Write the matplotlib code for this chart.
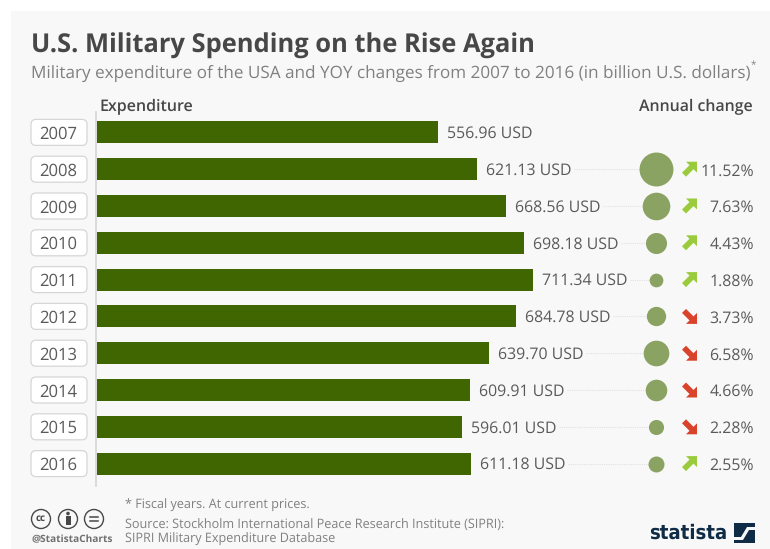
import numpy as np
import matplotlib
matplotlib.use("Agg")
import matplotlib.pyplot as plt
from matplotlib.patches import Circle, FancyBboxPatch, Polygon, Rectangle

plt.rcParams["font.family"] = ["Open Sans", "DejaVu Sans"]
plt.rcParams["text.hinting"] = "no_hinting"

# ─── DATA ────────────────────────────────────────────────────────────────────
years = ["2007", "2008", "2009", "2010", "2011", "2012", "2013", "2014", "2015", "2016"]
spending = [556.96, 621.13, 668.56, 698.18, 711.34, 684.78, 639.70, 609.91, 596.01, 611.18]
changes = [None, 11.52, 7.63, 4.43, 1.88, 3.73, 6.58, 4.66, 2.28, 2.55]
direction = [0, 1, 1, 1, 1, -1, -1, -1, -1, 1]

W, H = 770, 549
DPI = 100
PX = 72 / DPI  # one pixel in points

TEXT = "#5a5a5a"
DARK = "#474747"
GREY = "#808080"
BAR = "#3f6600"
DOT = "#8aa262"
UP = "#9acb3c"
DOWN = "#d9432b"
PANEL = "#f8f8f8"
NAVY = "#0f2b46"

fig = plt.figure(figsize=(W / DPI, H / DPI), dpi=DPI, facecolor="white")

# overlay in pixel coordinates for the frame, header and footer
bg = fig.add_axes([0, 0, 1, 1])
bg.set_xlim(0, W)
bg.set_ylim(H, 0)
bg.axis("off")
bg.add_patch(Rectangle((11, 11), W - 11, H - 11, facecolor=PANEL, edgecolor="none"))


def label(x, y, s, size, color=TEXT, ha="left", **kw):
    # va="center" sits about 2px high for this font
    bg.text(x, y + 2, s, fontsize=size, color=color, ha=ha, va="center", **kw)


# data axes: bars on a USD scale, one row per year
left, right, top, bottom = 97, W, 114, 482
ax = fig.add_axes([left / W, 1 - bottom / H, (right - left) / W, (bottom - top) / H])
ax.patch.set_alpha(0)
scale = 341 / 556.96  # pixels per billion USD
ax.set_xlim(0, (right - left) / scale)
ax.set_ylim(len(years) - 0.5, -0.5)
ax.axis("off")

rows = np.arange(len(years))
ax.barh(rows, spending, height=0.6, color=BAR, zorder=2)

dot_x = (656 - left) / scale
for i, (val, chg) in enumerate(zip(spending, changes)):
    ax.annotate(f"{val:.2f} USD", (val, i), xytext=(9 * PX, -1.5 * PX), textcoords="offset points",
                ha="left", va="center", fontsize=11.45, color=TEXT)
    if chg is None:
        continue
    # leader between the value label and the bubble
    ax.plot([val + 97 / scale, dot_x], [i, i], color="#e2e2e2", lw=0.8, ls=(0, (1, 1)), zorder=1)
    radius = 5 * np.sqrt(chg)
    ax.scatter(dot_x, i, s=(2 * radius * PX) ** 2, color=DOT, linewidths=0, zorder=3)

# header
label(31, 44, "U.S. Military Spending on the Rise Again", 18.37, DARK, fontweight="bold")
label(31, 71, "Military expenditure of the USA and YOY changes from 2007 to 2016 (in billion U.S. dollars)",
      12.3, GREY)
label(750.5, 64, "*", 7, GREY)
label(99.5, 105, "Expenditure", 11.5, DARK, fontweight="semibold")
label(753, 105, "Annual change", 11.4, DARK, ha="right", fontweight="semibold")

# axis rule and year boxes
bg.plot([96, 96], [112, 486], color="#d4d4d4", lw=1.2)
for i, yr in enumerate(years):
    cy = top + (i + 0.5) * (bottom - top) / len(years)
    bg.add_patch(FancyBboxPatch((31, cy - 13), 56, 26, boxstyle="round,pad=0,rounding_size=5",
                                facecolor="white", edgecolor="#d6d6d6", lw=0.9))
    label(58.5, cy, yr, 12, ha="center")

    if changes[i] is None:
        continue
    label(754, cy, f"{changes[i]:.2f}%", 11.45, ha="right")

    # thick diagonal arrow, flipped vertically for decreases
    cx, s = 689.5, direction[i]
    shape = [(-3.5, -7.5), (7.5, -7.5), (7.5, 3.5), (4, 0), (-3.5, 7.5), (-7.5, 3.5), (0, -4)]
    shape = [(cx + px, cy + s * py) for px, py in shape]
    bg.add_patch(Polygon(shape, closed=True, color=UP if s > 0 else DOWN, lw=0))

# footer
label(125, 503, "* Fiscal years. At current prices.", 9.05, GREY)
label(125, 523, "Source: Stockholm International Peace Research Institute (SIPRI):", 9.05, GREY)
label(125, 538, "SIPRI Military Expenditure Database", 9.05, GREY)

# licence badges
for cx, kind in [(41, "cc"), (68, "by"), (94, "eq")]:
    bg.add_patch(Circle((cx, 519), 9.5, facecolor="none", edgecolor=DARK, lw=1.0))
    if kind == "cc":
        bg.text(cx, 518.5, "cc", fontsize=7, fontweight="bold", color=DARK, ha="center", va="center")
    elif kind == "by":
        bg.add_patch(Circle((cx, 513.5), 1.8, facecolor=DARK, edgecolor="none"))
        bg.add_patch(Rectangle((cx - 2.5, 516), 5, 9, facecolor=DARK, edgecolor="none"))
    else:
        bg.plot([cx - 4, cx + 4], [517, 517], color=DARK, lw=1.1)
        bg.plot([cx - 4, cx + 4], [521, 521], color=DARK, lw=1.1)
label(31, 538, "@StatistaCharts", 7.3, "#707070", fontweight="bold")

# statista wordmark and square logo
bg.text(727.5, 533, "statista", fontsize=14.5, fontweight="bold", color=NAVY, ha="right", va="center",
        family="DejaVu Sans", fontstretch="condensed")
bg.add_patch(Rectangle((734, 523), 21, 20, facecolor=NAVY, edgecolor="none"))
bg.add_patch(Polygon([(734, 537), (741, 537), (747, 527), (755, 527), (755, 530), (749, 530),
                      (743, 540), (734, 540)], closed=True, facecolor=PANEL, edgecolor="none"))

fig.savefig("out.png", dpi=DPI, facecolor="white")
